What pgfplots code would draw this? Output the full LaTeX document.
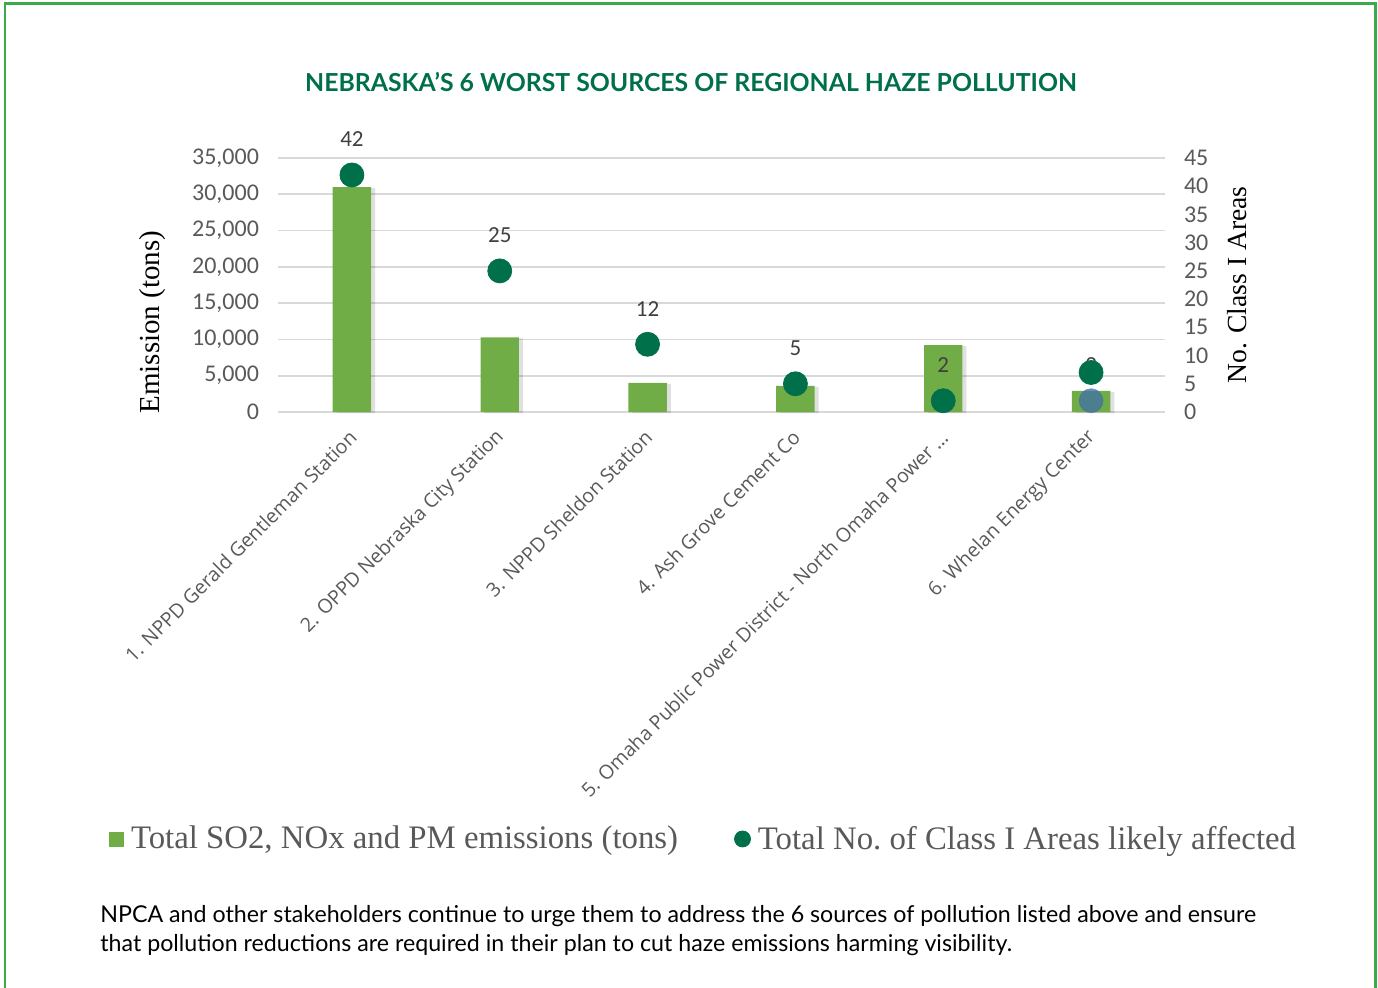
\documentclass[border=0pt]{standalone}
\usepackage{pgfplots}
\pgfplotsset{compat=1.18}
\usepackage{fontspec}
\setmainfont{Liberation Serif}
\newfontfamily\lato{Lato}
\newfontfamily\carlito{Carlito}
\newfontfamily\opensans{Open Sans}
\definecolor{barG}{HTML}{70AD47}
\definecolor{dotG}{HTML}{00704A}
\definecolor{titleG}{HTML}{00704A}
\definecolor{borderG}{HTML}{3AAA4A}
\definecolor{tickGray}{HTML}{595959}
\definecolor{lblGray}{HTML}{404040}
\definecolor{gridGray}{HTML}{D9D9D9}
\definecolor{blueDot}{HTML}{3F6FA8}
\begin{document}
\begin{tikzpicture}
\path[use as bounding box] (0,0) rectangle (689pt,493.5pt);
\draw[borderG, line width=1.3pt] (2.5pt,-5pt) -- (2.5pt,491.75pt) -- (687.75pt,491.75pt) -- (687.75pt,-5pt);
\node[font=\lato\bfseries\fontsize{12.4}{15}\selectfont, text=titleG] at (345.5pt,452.5pt) {NEBRASKA’S 6 WORST SOURCES OF REGIONAL HAZE POLLUTION};

\begin{axis}[
  at={(139pt,287.5pt)}, anchor=south west, scale only axis,
  width=443.5pt, height=127pt,
  xmin=-0.5, xmax=5.5, ymin=0, ymax=35000,
  ytick={0,5000,...,35000},
  xtick={0,1,2,3,4,5},
  xticklabels={{1. NPPD Gerald Gentleman Station}, {2. OPPD Nebraska City Station}, {3. NPPD Sheldon Station}, {4. Ash Grove Cement Co}, {5. Omaha Public Power District - North Omaha Power \ldots}, {6. Whelan Energy Center}},
  axis line style={draw=none},
  major tick length=0pt,
  ymajorgrids, grid style={gridGray, line width=0.9pt},
  scaled y ticks=false,
  /pgf/number format/assume math mode=true,
  yticklabel style={font=\carlito\fontsize{12}{13}\selectfont, text=tickGray, xshift=-6pt, /pgf/number format/1000 sep={,}},
  xticklabel style={font=\opensans\fontsize{9.8}{11}\selectfont, text=tickGray, xshift=3pt, yshift=-8.5pt, rotate=45, anchor=east},
  ylabel={Emission (tons)},
  ylabel style={at={(axis description cs:-0.141,0.354)}, anchor=center, font=\fontsize{14.5}{16}\selectfont},
  clip=false,
]
\addplot[ybar, bar width=0.26, fill=black, fill opacity=0.12, draw=none, xshift=2pt, yshift=-0.5pt] coordinates {(0,31000) (1,10300) (2,4000) (3,3600) (4,9230) (5,2900)};
\addplot[ybar, bar width=0.26, fill=barG, draw=none] coordinates {(0,31000) (1,10300) (2,4000) (3,3600) (4,9230) (5,2900)};
\end{axis}

\begin{axis}[
  at={(139pt,287.5pt)}, anchor=south west, scale only axis,
  width=443.5pt, height=127pt,
  xmin=-0.5, xmax=5.5, ymin=0, ymax=45,
  ytick={0,5,...,45},
  axis y line*=right, hide x axis,
  axis line style={draw=none},
  major tick length=0pt,
  /pgf/number format/assume math mode=true,
  yticklabel style={font=\carlito\fontsize{12}{13}\selectfont, text=tickGray, xshift=6pt},
  ylabel={No. Class I Areas},
  ylabel style={at={(axis description cs:1.081,0.5)}, anchor=center, font=\fontsize{13.8}{15}\selectfont},
  clip=false,
  legend columns=2,
  legend style={at={(0.481,-1.681)}, anchor=center, draw=none, fill=none,
    font=\fontsize{16.4}{18}\selectfont, text=tickGray,
    /tikz/every odd column/.append style={column sep=1.5pt},
    /tikz/every even column/.append style={column sep=26pt}},
]
\addlegendimage{legend image code/.code={\fill[barG] (0pt,-3.5pt) rectangle (7pt,3.5pt);}}
\addlegendentry{Total SO2, NOx and PM emissions (tons)}
\addplot[only marks, mark=*, mark size=6pt, color=dotG,
  legend image code/.code={\fill[dotG] (3.5pt,0pt) circle (4pt);},
  nodes near coords, point meta=explicit symbolic,
  every node near coord/.append style={font=\carlito\fontsize{11.5}{13}\selectfont, text=lblGray, yshift=10.5pt}]
  coordinates {(0,42) [42] (1,25) [25] (2,12) [12] (3,5) [5] (4,2) [2]};
\addlegendentry{Total No.\ of Class I Areas likely affected}
\addplot[only marks, mark=*, mark size=6pt, color=blueDot, fill opacity=0.75, draw opacity=0.5, forget plot,
  nodes near coords, point meta=explicit symbolic,
  every node near coord/.append style={font=\carlito\fontsize{11.5}{13}\selectfont, text=lblGray, text opacity=1, yshift=10.5pt}]
  coordinates {(5,2) [2]};
\addplot[only marks, mark=*, mark size=6pt, color=dotG, forget plot] coordinates {(5,7)};
\end{axis}

\node[anchor=base west, inner sep=0pt, font=\lato\fontsize{11.6}{13}\selectfont] at (50pt,32.5pt) {NPCA and other stakeholders continue to urge them to address the 6 sources of pollution listed above and ensure};
\node[anchor=base west, inner sep=0pt, font=\lato\fontsize{11.6}{13}\selectfont] at (50pt,18pt) {that pollution reductions are required in their plan to cut haze emissions harming visibility.};
\end{tikzpicture}
\end{document}
